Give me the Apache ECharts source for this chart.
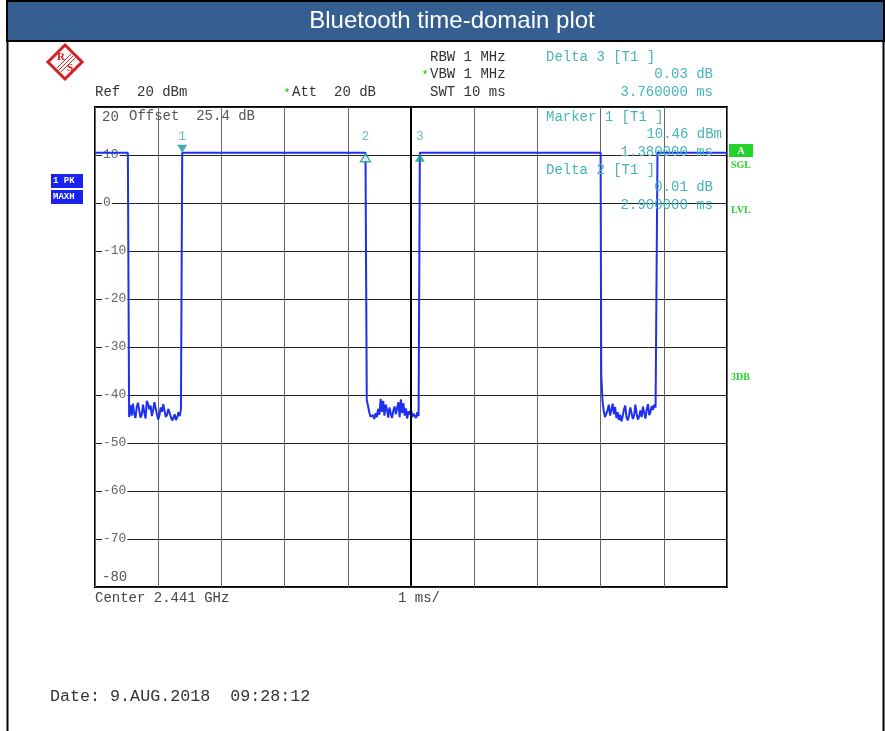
<!DOCTYPE html>
<html>
<head>
<meta charset="utf-8">
<title>Bluetooth time-domain plot</title>
<script src="https://cdn.jsdelivr.net/npm/echarts@6/dist/echarts.min.js"></script>
<style>
  html, body { margin: 0; padding: 0; background: #fff; }
  #chart { width: 885px; height: 731px; }
</style>
</head>
<body>
<div id="chart"></div>
<script>
// sweep: 10 ms span, samples every 0.02 ms
var sweepStep = 0.02;
var highLevel = 10.46;

// time intervals (ms) where the burst is on
var burstOn = [[0, 0.52], [1.38, 4.28], [5.14, 8.00], [8.90, 10]];

// noise floor between bursts (dBm)
var gapStart = [0.54, 4.30, 8.01];
var gapNoise1 = [-44.6, -42.1, -44.3, -41.8, -43.9, -44.8, -42.5, -41.6, -43.2, -44.7,
  -44.1, -42.0, -43.6, -44.9, -41.2, -41.9, -43.0, -42.2, -44.4, -43.1,
  -41.5, -42.8, -44.0, -45.1, -44.2, -42.6, -43.5, -41.9, -42.3, -44.6,
  -44.1, -42.9, -43.0, -44.5, -45.3, -44.8, -44.0, -45.2, -44.7, -43.6,
  -44.4, -43.0];
var gapNoise2 = [-41.0, -42.3, -43.6, -44.5, -44.9, -44.2, -45.0, -43.8, -44.6, -42.9,
  -44.1, -40.8, -43.5, -41.2, -44.3, -42.0, -43.0, -44.7, -42.6, -43.9,
  -44.8, -43.3, -42.4, -44.0, -43.7, -41.5, -44.6, -40.9, -43.8, -41.7,
  -44.3, -42.8, -44.9, -43.4, -44.1, -43.0, -44.6, -43.9, -44.2, -44.8,
  -43.6, -44.4];
var gapNoise3 = [-35.6, -41.2, -43.4, -44.6, -45.0, -43.2, -42.0, -44.3, -43.1, -41.8, -44.0,
  -42.5, -44.8, -43.6, -45.2, -44.1, -45.5, -44.4, -43.0, -42.2, -44.7,
  -45.3, -44.2, -42.6, -43.8, -45.0, -44.3, -42.0, -43.9, -45.1, -44.5,
  -43.2, -44.6, -42.4, -43.7, -44.9, -43.0, -41.9, -44.2, -43.5, -42.3,
  -43.1, -42.0, -42.6];
var gapNoise = [gapNoise1, gapNoise2, gapNoise3];

// markers
var markerNames = ['1', '2', '3'];
var markerTimes = [1.38, 4.28, 5.14];
var markerLevels = [10.46, 10.47, 10.49];

// y tick labels (dBm)
var yTickValues = [20, 10, 0, -10, -20, -30, -40, -50, -60, -70, -80];
var yTickLabels = ['20', '10', '0', '-10', '-20', '-30', '-40', '-50', '-60', '-70', '-80'];

var MONO = '"Liberation Mono", "DejaVu Sans Mono", monospace';
var TEAL = '#45b3bb';
var TEAL_MARK = '#159a9a';
var GREEN = '#22d42a';
var BLUE = '#1f2ff0';

var trace = [];
burstOn.forEach(function(on, i) {
  trace.push([on[0], highLevel]);
  trace.push([on[1], highLevel]);
  if (gapNoise[i]) {
    gapNoise[i].forEach(function(v, j) {
      var t = Math.round((gapStart[i] + j * sweepStep) * 1000) / 1000;
      trace.push([t, v]);
    });
  }
});

var markerData = markerNames.map(function(name, i) {
  var down = i === 0;
  return {
    name: name,
    value: [markerTimes[i], markerLevels[i]],
    symbol: 'triangle',
    symbolSize: [10, 8],
    symbolRotate: down ? 180 : 0,
    symbolOffset: [0, down ? -4 : 5],
    itemStyle: i === 1 ?
      {color: '#fff', borderColor: TEAL_MARK, borderWidth: 1.5} :
      {color: TEAL_MARK}
  };
});

function txt(x, y, text, opts) {
  opts = opts || {};
  return {
    type: 'text', x: x, y: y, silent: true, z: opts.z || 10,
    style: {
      text: text,
      fill: opts.fill || '#333',
      font: opts.font || ('14px ' + MONO),
      align: opts.align || 'left',
      verticalAlign: 'middle'
    }
  };
}

var SERIF_B = 'bold 10px "Liberation Serif", serif';

var graphics = [
  // page frame and title bar
  {type: 'line', silent: true, shape: {x1: 7.5, y1: 40, x2: 7.5, y2: 731}, style: {stroke: '#000', lineWidth: 2}},
  {type: 'line', silent: true, shape: {x1: 883.5, y1: 40, x2: 883.5, y2: 731}, style: {stroke: '#000', lineWidth: 2}},
  {type: 'rect', silent: true, shape: {x: 7, y: 1, width: 877, height: 40},
    style: {fill: '#365f91', stroke: '#000', lineWidth: 2}},
  txt(452, 21, 'Bluetooth time-domain plot', {fill: '#fff', font: '24px "Liberation Sans", Arial, sans-serif', align: 'center'}),

  // R&S logo
  {type: 'polygon', silent: true, shape: {points: [[65, 45], [82, 62], [65, 79], [48, 62]]},
    style: {fill: '#fff', stroke: '#d42020', lineWidth: 3}},
  {type: 'line', silent: true, shape: {x1: 57, y1: 68, x2: 71, y2: 54}, style: {stroke: '#d42020', lineWidth: 1}},
  {type: 'line', silent: true, shape: {x1: 59, y1: 70, x2: 73, y2: 56}, style: {stroke: '#d42020', lineWidth: 1}},
  {type: 'line', silent: true, shape: {x1: 61, y1: 72, x2: 75, y2: 58}, style: {stroke: '#d42020', lineWidth: 1}},
  txt(61, 57, 'R', {fill: '#d42020', font: 'bold 11px "Liberation Serif", serif', align: 'center'}),
  txt(70, 68, 'S', {fill: '#d42020', font: 'bold 11px "Liberation Serif", serif', align: 'center'}),

  // instrument settings
  txt(95, 92, 'Ref  20 dBm'),
  txt(287, 93, '*', {fill: GREEN, font: 'bold 10px ' + MONO, align: 'center'}),
  txt(292, 92, 'Att  20 dB'),
  txt(430, 57, 'RBW 1 MHz'),
  txt(425, 75, '*', {fill: GREEN, font: 'bold 10px ' + MONO, align: 'center'}),
  txt(430, 74, 'VBW 1 MHz'),
  txt(430, 92, 'SWT 10 ms'),

  // marker readouts
  txt(546, 57, 'Delta 3 [T1 ]', {fill: TEAL}),
  txt(713, 74, '0.03 dB', {fill: TEAL, align: 'right'}),
  txt(713, 92, '3.760000 ms', {fill: TEAL, align: 'right'}),
  txt(546, 117, 'Marker 1 [T1 ]', {fill: TEAL}),
  txt(722, 134, '10.46 dBm', {fill: TEAL, align: 'right'}),
  txt(713, 152, '1.380000 ms', {fill: TEAL, align: 'right'}),
  txt(546, 170, 'Delta 2 [T1 ]', {fill: TEAL}),
  txt(713, 187, '0.01 dB', {fill: TEAL, align: 'right'}),
  txt(713, 205, '2.900000 ms', {fill: TEAL, align: 'right'}),

  txt(129, 116, 'Offset  25.4 dB', {fill: '#555'}),

  // trace mode boxes
  {type: 'rect', silent: true, shape: {x: 51, y: 174, width: 32, height: 14}, style: {fill: '#1a22f0'}},
  {type: 'rect', silent: true, shape: {x: 51, y: 190, width: 32, height: 14}, style: {fill: '#1a22f0'}},
  txt(53, 181, '1 PK', {fill: '#fff', font: 'bold 9px ' + MONO}),
  txt(53, 197, 'MAXH', {fill: '#fff', font: 'bold 9px ' + MONO}),

  // right side status
  {type: 'rect', silent: true, shape: {x: 729, y: 144, width: 24, height: 13}, style: {fill: GREEN}},
  txt(741, 151, 'A', {fill: '#fff', font: SERIF_B, align: 'center'}),
  txt(731, 165, 'SGL', {fill: GREEN, font: SERIF_B}),
  txt(731, 210, 'LVL', {fill: GREEN, font: SERIF_B}),
  txt(731, 377, '3DB', {fill: GREEN, font: SERIF_B}),

  // footer
  txt(95, 598, 'Center 2.441 GHz', {fill: '#444'}),
  txt(398, 598, '1 ms/', {fill: '#444'}),
  txt(50, 697, 'Date: 9.AUG.2018  09:28:12', {fill: '#333', font: '16.7px ' + MONO})
];

var chart = echarts.init(document.getElementById('chart'), null, {renderer: 'canvas'});
chart.setOption({
  animation: false,
  backgroundColor: '#fff',
  grid: {
    left: 95, top: 107, width: 632, height: 480,
    show: true, borderColor: '#000', borderWidth: 2, backgroundColor: 'transparent'
  },
  xAxis: {
    type: 'value', min: 0, max: 10, interval: 1,
    axisLine: {show: false}, axisTick: {show: false}, axisLabel: {show: false},
    splitLine: {show: true, lineStyle: {color: '#666', width: 1}}
  },
  yAxis: {
    type: 'value', min: -80, max: 20, interval: 10,
    axisLine: {show: false}, axisTick: {show: false},
    splitLine: {show: true, lineStyle: {color: '#222', width: 1}},
    axisLabel: {
      inside: true, margin: 7, showMinLabel: true, showMaxLabel: true,
      color: '#666', fontFamily: MONO, fontSize: 13,
      formatter: function(v) {
        var label = yTickLabels[yTickValues.indexOf(v)];
        if (v === 20) return '{gap| }\n{edge|' + label + '}';
        if (v === -80) return '{edge|' + label + '}\n{gap| }';
        return '{tick|' + label + '}';
      },
      rich: {
        tick: {backgroundColor: '#fff', padding: [0, 1, 0, 1], color: '#666', fontFamily: MONO, fontSize: 13},
        edge: {color: '#555', fontFamily: MONO, fontSize: 14, lineHeight: 14},
        gap: {lineHeight: 20, fontSize: 12}
      }
    }
  },
  series: [
    {
      type: 'line', name: 'trace', data: trace, symbol: 'none',
      lineStyle: {color: BLUE, width: 2}, z: 3,
      markLine: {
        silent: true, symbol: 'none', label: {show: false},
        lineStyle: {color: '#000', width: 2, type: 'solid'},
        data: [{xAxis: 5}]
      }
    },
    {
      type: 'scatter', name: 'markers', data: markerData, z: 5, silent: true
    },
    {
      type: 'scatter', name: 'markerLabels', silent: true, z: 5,
      symbolSize: 0,
      data: markerNames.map(function(name, i) {
        return {name: name, value: [markerTimes[i], markerLevels[i]]};
      }),
      label: {
        show: true, position: 'top', distance: 10,
        formatter: '{b}', color: TEAL, fontFamily: MONO, fontSize: 13
      }
    }
  ],
  graphic: graphics
});
</script>
</body>
</html>
